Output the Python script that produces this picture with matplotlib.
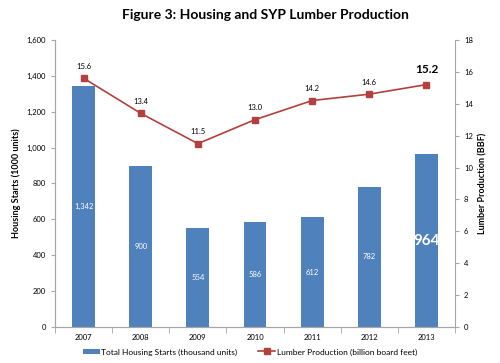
import matplotlib.pyplot as plt
import matplotlib.ticker as mticker
import numpy as np

plt.rcParams['font.family'] = ['Lato', 'DejaVu Sans']

years = ['2007', '2008', '2009', '2010', '2011', '2012', '2013']
housing = [1342, 900, 554, 586, 612, 782, 964]
lumber = [15.6, 13.4, 11.5, 13.0, 14.2, 14.6, 15.2]
housing_labels = ['1,342', '900', '554', '586', '612', '782', '964']

bar_color = '#4F81BD'
line_color = '#B3403D'
axis_color = '#A6A6A6'

fig = plt.figure(figsize=(5, 3.63), dpi=100)
ax = fig.add_axes([0.11, 0.099, 0.80, 0.791])
ax2 = ax.twinx()

x = np.arange(len(years))
ax.bar(x, housing, width=0.4, color=bar_color, zorder=2,
       label='Total Housing Starts (thousand units)')
ax.set_xlim(-0.5, len(years) - 0.5)
ax.set_ylim(0, 1600)
ax.yaxis.set_major_locator(mticker.MultipleLocator(200))
ax.yaxis.set_major_formatter(mticker.FuncFormatter(lambda v, p: f'{int(v):,}'))
ax.set_xticks(x)
ax.set_xticklabels(years)
ax.set_xticks(np.arange(-0.5, len(years)), minor=True)
ax.tick_params(axis='x', which='major', length=0, labelsize=5.5, pad=5)
ax.tick_params(axis='x', which='minor', length=4, color=axis_color)
ax.tick_params(axis='y', labelsize=5.5, length=3, color=axis_color)
ax.set_ylabel('Housing Starts (1000 units)', fontsize=6.5, fontweight='bold')

for i, (v, lab) in enumerate(zip(housing, housing_labels)):
    if i == len(housing) - 1:
        ax.text(i, v / 2, lab, ha='center', va='center', color='white',
                fontsize=11, fontweight='bold', zorder=3)
    else:
        ax.text(i, v / 2, lab, ha='center', va='center', color='white',
                fontsize=5.5, zorder=3)

ax2.plot(x, lumber, color=line_color, marker='s', markersize=4, linewidth=1.2,
         label='Lumber Production (billion board feet)')
ax2.set_ylim(0, 18)
ax2.yaxis.set_major_locator(mticker.MultipleLocator(2))
ax2.tick_params(axis='y', labelsize=5.5, length=3, color=axis_color)
ax2.set_ylabel('Lumber Production (BBF)', fontsize=6.5, fontweight='bold')

for i, v in enumerate(lumber):
    if i == len(lumber) - 1:
        ax2.annotate(f'{v:.1f}', (i, v), xytext=(0, 7), textcoords='offset points',
                     ha='center', va='bottom', fontsize=8.5, fontweight='bold')
    else:
        ax2.annotate(f'{v:.1f}', (i, v), xytext=(0, 6), textcoords='offset points',
                     ha='center', va='bottom', fontsize=5.5)

for a in (ax, ax2):
    a.spines['top'].set_visible(False)
    for s in ('left', 'right', 'bottom'):
        a.spines[s].set_color(axis_color)
ax.spines['right'].set_visible(False)

fig.suptitle('Figure 3: Housing and SYP Lumber Production', x=0.53, y=0.975,
             fontsize=10, fontweight='bold')

h1, l1 = ax.get_legend_handles_labels()
h2, l2 = ax2.get_legend_handles_labels()
fig.legend(h1 + h2, l1 + l2, loc='lower center', bbox_to_anchor=(0.5, 0.0),
           ncol=2, frameon=False, fontsize=6, handlelength=2.0,
           handletextpad=0.2, columnspacing=2.5)

fig.savefig('out.png', dpi=100)
